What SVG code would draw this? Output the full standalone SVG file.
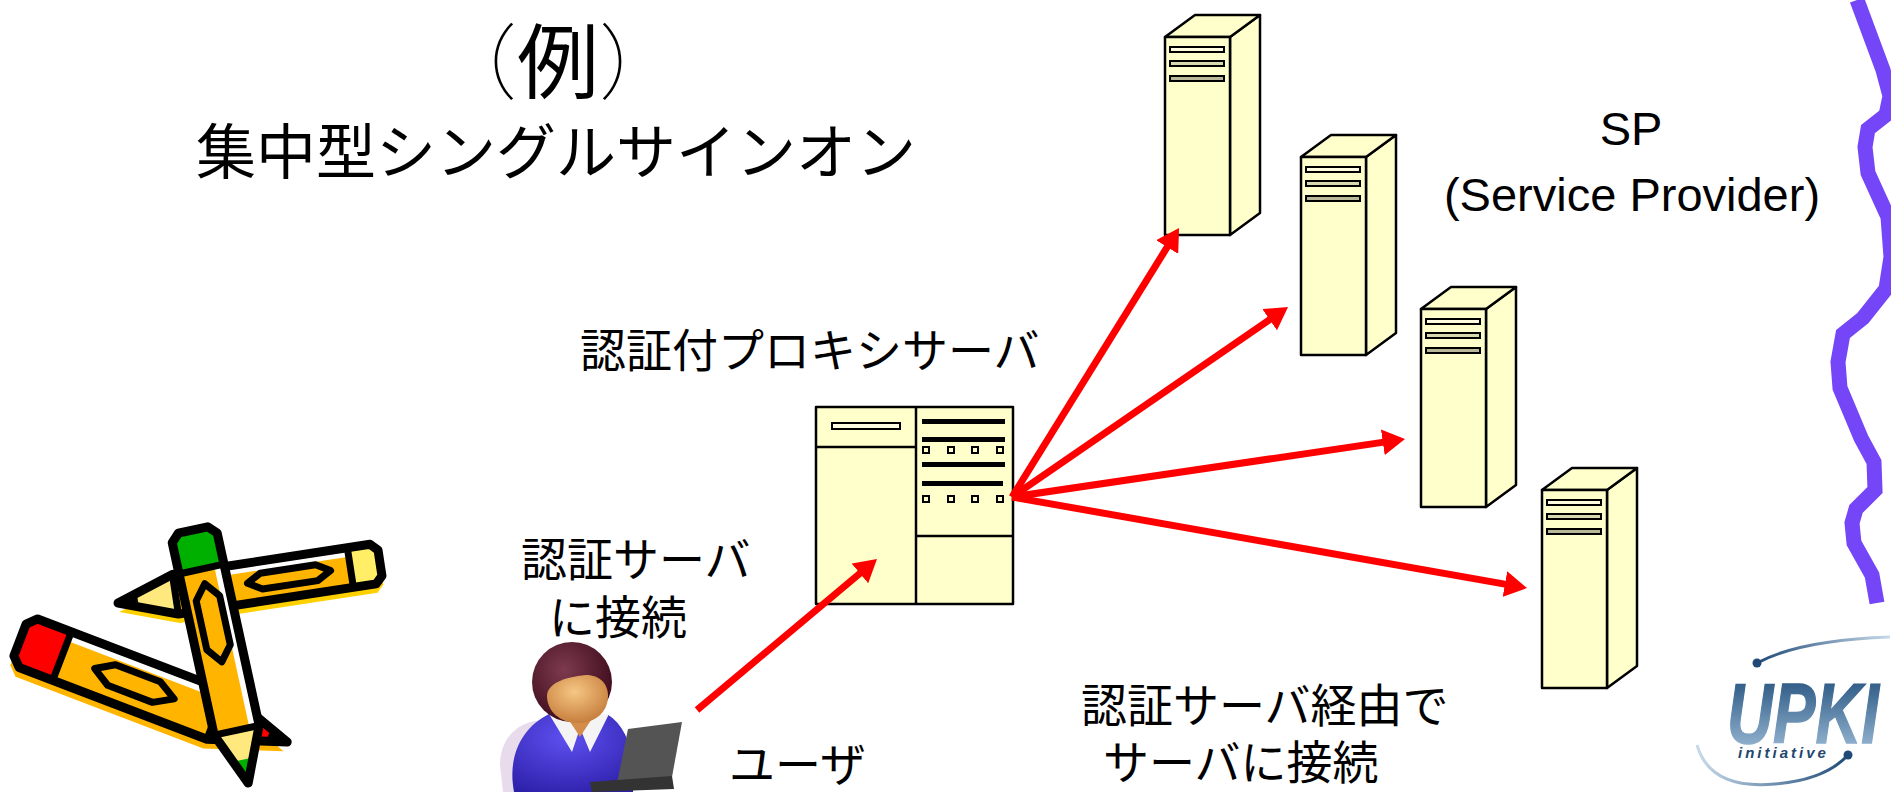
<svg xmlns="http://www.w3.org/2000/svg" width="1891" height="794" viewBox="0 0 1891 794">
  <defs>
    <style>
      .jp { font-family: 'Noto Sans CJK JP', 'Noto Sans CJK SC', sans-serif; fill: #000; }
      .lbl { font-size: 46px; }
      .en { font-family: 'Liberation Sans', Arial, sans-serif; font-size: 47px; fill: #000; text-anchor: middle; }
      .srv { fill: #FFFFCC; stroke: #000; stroke-width: 2.5; stroke-linejoin: round; }
      .slot { stroke: #000; stroke-width: 2; }
      .bar { fill: #000; }
      .knob { fill: #FFFFCC; stroke: #000; stroke-width: 2; }
      .link { stroke: #FF0000; stroke-width: 7; fill: none; marker-end: url(#arrow); }
      .pk { fill: none; stroke: #000; stroke-width: 9; stroke-linejoin: round; }
      .hex { fill: none; stroke: #000; stroke-width: 7; stroke-linejoin: round; }
      .band { stroke: #000; stroke-width: 7; fill: none; }
    </style>
    <marker id="arrow" viewBox="0 0 3.2 3.7" refX="0.4" refY="1.85" markerWidth="3.2" markerHeight="3.7" orient="auto" markerUnits="strokeWidth">
      <path d="M0,0 L3.2,1.85 L0,3.7 z" fill="#FF0000"/>
    </marker>
    <!-- tower server: front face origin at top-left corner -->
    <g id="tower">
      <polygon class="srv" points="65,0 95,-22 95,176 65,198"/>
      <polygon class="srv" points="0,0 30,-22 95,-22 65,0"/>
      <rect class="srv" x="0" y="0" width="65" height="198"/>
      <rect class="slot" x="5" y="10" width="54" height="5" fill="#FFFCE0"/>
      <rect class="slot" x="5" y="24" width="54" height="5" fill="#D8D8B0"/>
      <rect class="slot" x="5" y="39" width="54" height="5" fill="#B8B898"/>
    </g>
    <radialGradient id="hairGrad" cx="0.4" cy="0.35" r="0.7">
      <stop offset="0" stop-color="#7E3A4E"/>
      <stop offset="1" stop-color="#3A0A1A"/>
    </radialGradient>
    <radialGradient id="faceGrad" cx="0.45" cy="0.35" r="0.75">
      <stop offset="0" stop-color="#F6C684"/>
      <stop offset="1" stop-color="#C07432"/>
    </radialGradient>
    <radialGradient id="shirtGrad" cx="0.45" cy="0.3" r="0.8">
      <stop offset="0" stop-color="#5E50F0"/>
      <stop offset="1" stop-color="#2C1FA8"/>
    </radialGradient>
    <linearGradient id="upkiGrad" x1="0" y1="0" x2="0" y2="1">
      <stop offset="0" stop-color="#174674"/>
      <stop offset="1" stop-color="#A6C4DE"/>
    </linearGradient>
    <linearGradient id="arcTop" x1="0" y1="0" x2="1" y2="0">
      <stop offset="0" stop-color="#1F4A78"/>
      <stop offset="1" stop-color="#C8DAEA"/>
    </linearGradient>
    <linearGradient id="arcBot" x1="0" y1="0" x2="1" y2="0">
      <stop offset="0" stop-color="#C8DAEA"/>
      <stop offset="1" stop-color="#1F4A78"/>
    </linearGradient>
  </defs>

  <rect width="1891" height="794" fill="#FFFFFF"/>

  <!-- heading -->
  <g id="heading">
    <text class="jp" x="435" y="92" font-size="82"><tspan font-weight="100">（</tspan>例<tspan font-weight="100">）</tspan></text>
    <text class="jp" x="196" y="174" font-size="60">集中型シングルサインオン</text>
  </g>

  <!-- service provider servers -->
  <g id="sp1"><use href="#tower" transform="translate(1165,37)"/></g>
  <g id="sp2"><use href="#tower" transform="translate(1301,157)"/></g>
  <g id="sp3"><use href="#tower" transform="translate(1421,309)"/></g>
  <g id="sp4"><use href="#tower" transform="translate(1542,490)"/></g>

  <g id="sp-label">
    <text class="en" x="1631" y="145">SP</text>
    <text class="en" x="1632" y="211">(Service Provider)</text>
  </g>

  <!-- authenticating proxy server -->
  <g id="proxy">
    <rect class="srv" x="816" y="407" width="197" height="197"/>
    <path d="M916,407 V604 M816,447 H916 M916,536 H1013" stroke="#000" stroke-width="2.5" fill="none"/>
    <rect class="slot" x="832" y="423" width="68" height="6" fill="#FFFCE0"/>
    <rect class="bar" x="922" y="419" width="83" height="5"/>
    <rect class="bar" x="922" y="437" width="83" height="5"/>
    <rect class="bar" x="922" y="462" width="83" height="5"/>
    <rect class="bar" x="922" y="481" width="81" height="5"/>
    <rect class="knob" x="923" y="447" width="6" height="6"/>
    <rect class="knob" x="948" y="447" width="6" height="6"/>
    <rect class="knob" x="972" y="447" width="6" height="6"/>
    <rect class="knob" x="997" y="447" width="6" height="6"/>
    <rect class="knob" x="923" y="496" width="6" height="6"/>
    <rect class="knob" x="948" y="496" width="6" height="6"/>
    <rect class="knob" x="972" y="496" width="6" height="6"/>
    <rect class="knob" x="997" y="496" width="6" height="6"/>
  </g>
  <g id="proxy-label">
    <text class="jp lbl" x="580" y="367">認証付プロキシサーバ</text>
  </g>

  <!-- user with laptop -->
  <g id="user">
    <path d="M546,720 C516,720 500,740 500,765 L503,792 L546,792 Z" fill="#E8DCEC"/>
    <path d="M514,792 C508,760 518,730 549,714 L607,714 C628,727 636,755 633,792 Z" fill="url(#shirtGrad)"/>
    <polygon points="549,714 572,752 580,728 590,752 609,714" fill="#F4F4F4"/>
    <polygon points="565,714 580,737 595,714" fill="#D48C4C"/>
    <circle cx="572" cy="682" r="40" fill="url(#hairGrad)"/>
    <path d="M547,696 C547,684 564,677 586,675 C600,675 608,684 608,696 C608,713 594,723 578,723 C560,723 547,711 547,696 Z" fill="url(#faceGrad)"/>
    <polygon points="628,729 682,722 672,777 617,783" fill="#545454"/>
    <polygon points="590,782 672,776 674,789 592,792" fill="#333333"/>
  </g>
  <g id="user-label">
    <text class="jp lbl" x="729" y="781">ユーザ</text>
  </g>

  <g id="auth-label">
    <text class="jp lbl" x="521" y="576">認証サーバ</text>
    <text class="jp lbl" x="549" y="634">に接続</text>
  </g>
  <g id="via-label">
    <text class="jp lbl" x="1081" y="722">認証サーバ経由で</text>
    <text class="jp lbl" x="1103" y="779">サーバに接続</text>
  </g>

  <!-- connectors -->
  <g id="connectors">
    <line class="link" x1="697" y1="710" x2="862" y2="571.6"/>
    <line class="link" x1="1012" y1="497" x2="1168.7" y2="244.7"/>
    <line class="link" x1="1012" y1="497" x2="1271.9" y2="318.1"/>
    <line class="link" x1="1012" y1="497" x2="1385.6" y2="441.9"/>
    <line class="link" x1="1012" y1="497" x2="1507.7" y2="584.6"/>
  </g>

  <!-- pencils clip art -->
  <g id="pencils">
    <!-- pencil with yellow eraser, lying across -->
    <g transform="translate(380,563) rotate(171.3) scale(1,-1)">
      <polygon points="0,-13 7,-20 207,-20 265,0 207,20 7,20 0,13" fill="#FFD000" transform="translate(0,9)"/>
      <polygon points="0,-13 7,-20 207,-20 265,0 207,20 7,20 0,13" fill="#FFB400"/>
      <polygon points="0,-13 7,-20 30,-20 30,20 7,20 0,13" fill="#FFEE66"/>
      <polygon points="207,-20 265,0 207,20" fill="#FFE97F"/>
      <polygon points="245,-6.9 265,0 245,6.9" fill="#000"/>
      <rect x="30" y="-16" width="177" height="5" fill="#FFFFFF"/>
      <polygon class="hex" points="50,0 64,-8 120,-8 134,0 120,8 64,8"/>
      <path class="band" d="M30,-20 V20 M207,-20 V20"/>
      <polygon class="pk" points="0,-13 7,-20 207,-20 265,0 207,20 7,20 0,13"/>
    </g>
    <!-- red pencil, lower left -->
    <g transform="translate(20,640) rotate(20.9)">
      <polygon points="0,-17 9,-26 210,-26 286,0 210,26 9,26 0,17" fill="#FFB400" transform="translate(0,10)"/>
      <polygon points="0,-17 9,-26 210,-26 286,0 210,26 9,26 0,17" fill="#FFB400"/>
      <polygon points="0,-17 9,-26 45,-26 45,26 9,26 0,17" fill="#FF0000"/>
      <polygon points="210,-26 286,0 210,26" fill="#FF0000"/>
      <polygon points="266,-6.8 286,0 266,6.8" fill="#000"/>
      <rect x="45" y="-22" width="165" height="6" fill="#FFFFFF"/>
      <polygon class="hex" points="80,0 98,-11 146,-11 165,0 146,11 98,11"/>
      <path class="band" d="M45,-26 V26 M210,-26 V26"/>
      <polygon class="pk" points="0,-17 9,-26 210,-26 286,0 210,26 9,26 0,17"/>
    </g>
    <!-- green pencil, standing steeply -->
    <g transform="translate(193,530) rotate(77.7)">
      <polygon points="0,-15 8,-23 205,-23 259,0 205,23 8,23 0,15" fill="#FFB400"/>
      <polygon points="0,-15 8,-23 40,-23 40,23 8,23 0,15" fill="#00B000"/>
      <polygon points="205,-23 259,0 205,23" fill="#FFE97F"/>
      <polygon points="235,-10.2 259,0 235,10.2" fill="#00B000"/>
      <rect x="40" y="-19" width="165" height="6" fill="#FFFFFF"/>
      <polygon class="hex" points="55,0 70,-12 120,-12 135,0 120,12 70,12"/>
      <path class="band" d="M40,-23 V23 M205,-23 V23"/>
      <polygon class="pk" points="0,-15 8,-23 205,-23 259,0 205,23 8,23 0,15"/>
    </g>
  </g>

  <!-- wavy boundary line -->
  <polyline points="1857,0 1883,70 1890,96 1886,115 1868,129 1865,147 1868,173 1888,217 1891,257 1886,289 1863,318 1843,334 1838,362 1840,388 1861,438 1874,462 1875,490 1856,509 1852,523 1854,543 1872,575 1877,603" fill="none" stroke="#7446F8" stroke-width="15" stroke-linejoin="miter"/>

  <!-- UPKI initiative logo -->
  <g id="logo">
    <path d="M1757,663 Q1800,640 1890,637" fill="none" stroke="url(#arcTop)" stroke-width="3"/>
    <path d="M1697,745 Q1710,790 1775,784 Q1825,780 1848,755" fill="none" stroke="url(#arcBot)" stroke-width="3"/>
    <circle cx="1757" cy="663" r="4.5" fill="#1F4A78"/>
    <circle cx="1848" cy="755" r="4.5" fill="#1F4A78"/>
    <text x="1727" y="743" font-family="'Liberation Sans', Arial, sans-serif" font-size="86" font-weight="bold" font-style="italic" textLength="152" lengthAdjust="spacingAndGlyphs" fill="url(#upkiGrad)" stroke="url(#upkiGrad)" stroke-width="1.5">UPKI</text>
    <text x="1738" y="758" font-family="'Liberation Sans', Arial, sans-serif" font-size="15" font-weight="bold" font-style="italic" letter-spacing="3" fill="#23466E">initiative</text>
  </g>
</svg>
